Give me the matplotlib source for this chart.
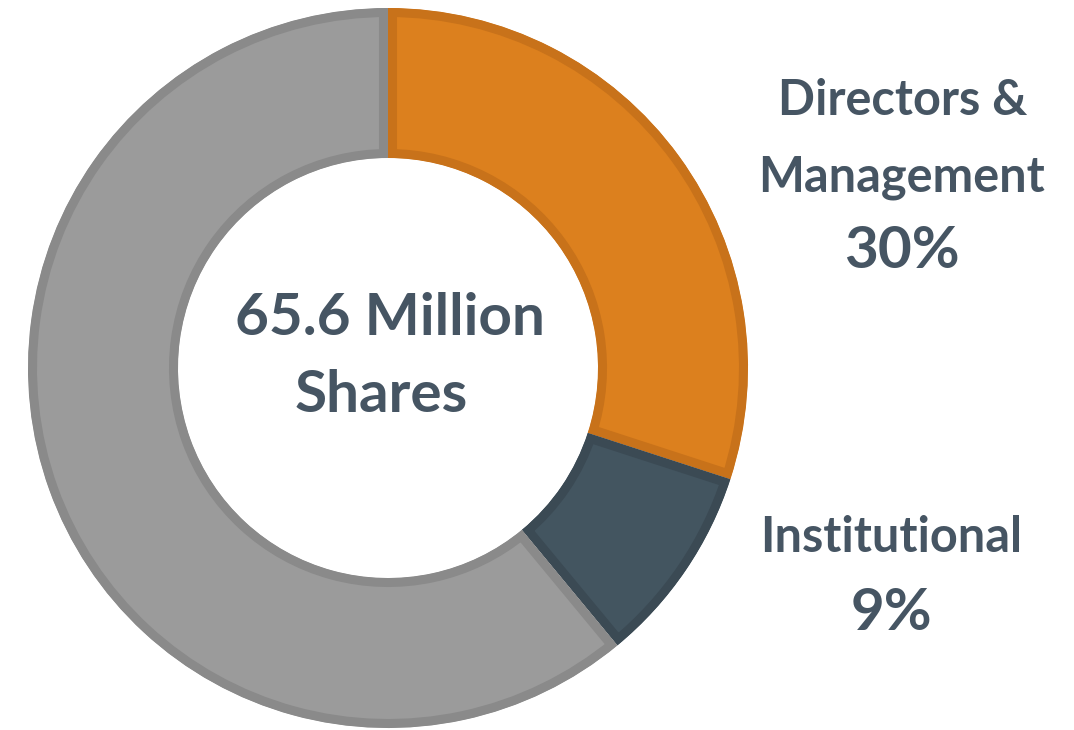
import matplotlib
matplotlib.use("Agg")
import matplotlib.pyplot as plt

labels = ["Directors & Management", "Institutional", "Other"]
values = [30, 9, 61]
fill_colors = ["#DC801E", "#435560", "#9B9B9B"]
edge_colors = ["#C8721A", "#3B4A54", "#8A8A8A"]
center_text = ["65.6 Million", "Shares"]
label_lines = [["Directors &", "Management", "30%"], ["Institutional", "9%"]]

TXT = "#465563"
FONT = "Lato"

W, H = 1074, 730
fig = plt.figure(figsize=(W / 100, H / 100), dpi=100)
ax = fig.add_axes([0, 0, 1, 1])

cx, cy = 388, H - 368
R = 360
ring = 150
wedges, _ = ax.pie(values, colors=fill_colors, startangle=90, counterclock=False,
                   center=(cx, cy), radius=R, frame=True,
                   wedgeprops=dict(width=ring, linewidth=13, antialiased=True))
ax.set_xlim(0, W)
ax.set_ylim(0, H)
ax.set_aspect("equal")
ax.axis("off")
for w, ec in zip(wedges, edge_colors):
    w.set_edgecolor(ec)
    w.set_clip_on(True)
    w.set_clip_path(w.get_path(), w.get_transform())

def put(x, base_y, s, size):
    ax.text(x, H - base_y, s, ha="center", va="baseline", fontsize=size,
            fontweight="bold", color=TXT, family=FONT)

put(390, 335, center_text[0], 42)
put(381, 412, center_text[1], 42)
put(903, 115, label_lines[0][0], 35)
put(901, 192, label_lines[0][1], 35)
put(902, 268, label_lines[0][2], 42)
put(891, 552, label_lines[1][0], 35)
put(891, 630, label_lines[1][1], 42)

fig.savefig("out.png", dpi=100)
